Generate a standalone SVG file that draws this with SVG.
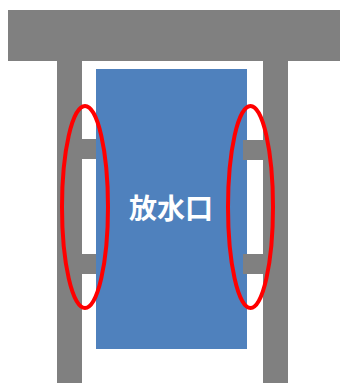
<svg xmlns="http://www.w3.org/2000/svg" width="340" height="383" viewBox="0 0 340 383">
<style>
.g{fill:#808080}
.e{fill:none;stroke:#ff0000;stroke-width:4}
</style>
<rect width="340" height="383" fill="#fff"/>
<g id="structure">
<rect class="g" x="8" y="10" width="332" height="51"/>
<rect class="g" x="57" y="61" width="25" height="322"/>
<rect class="g" x="263" y="61" width="25" height="322"/>
</g>
<g id="outlet">
<rect x="96" y="69" width="151" height="280" fill="#4f81bd"/>
<text x="171" y="219" font-family="Noto Sans CJK JP, sans-serif" font-size="28" font-weight="bold" fill="#fff" text-anchor="middle">放水口</text>
</g>
<g id="stubs">
<rect class="g" x="82" y="139" width="14" height="20"/>
<rect class="g" x="82" y="254" width="14" height="20"/>
<rect class="g" x="243" y="140" width="20" height="20"/>
<rect class="g" x="243" y="254" width="20" height="20"/>
</g>
<g id="highlights">
<ellipse class="e" cx="85" cy="207" rx="23" ry="101"/>
<ellipse class="e" cx="250.5" cy="207" rx="22.5" ry="101"/>
</g>
</svg>
